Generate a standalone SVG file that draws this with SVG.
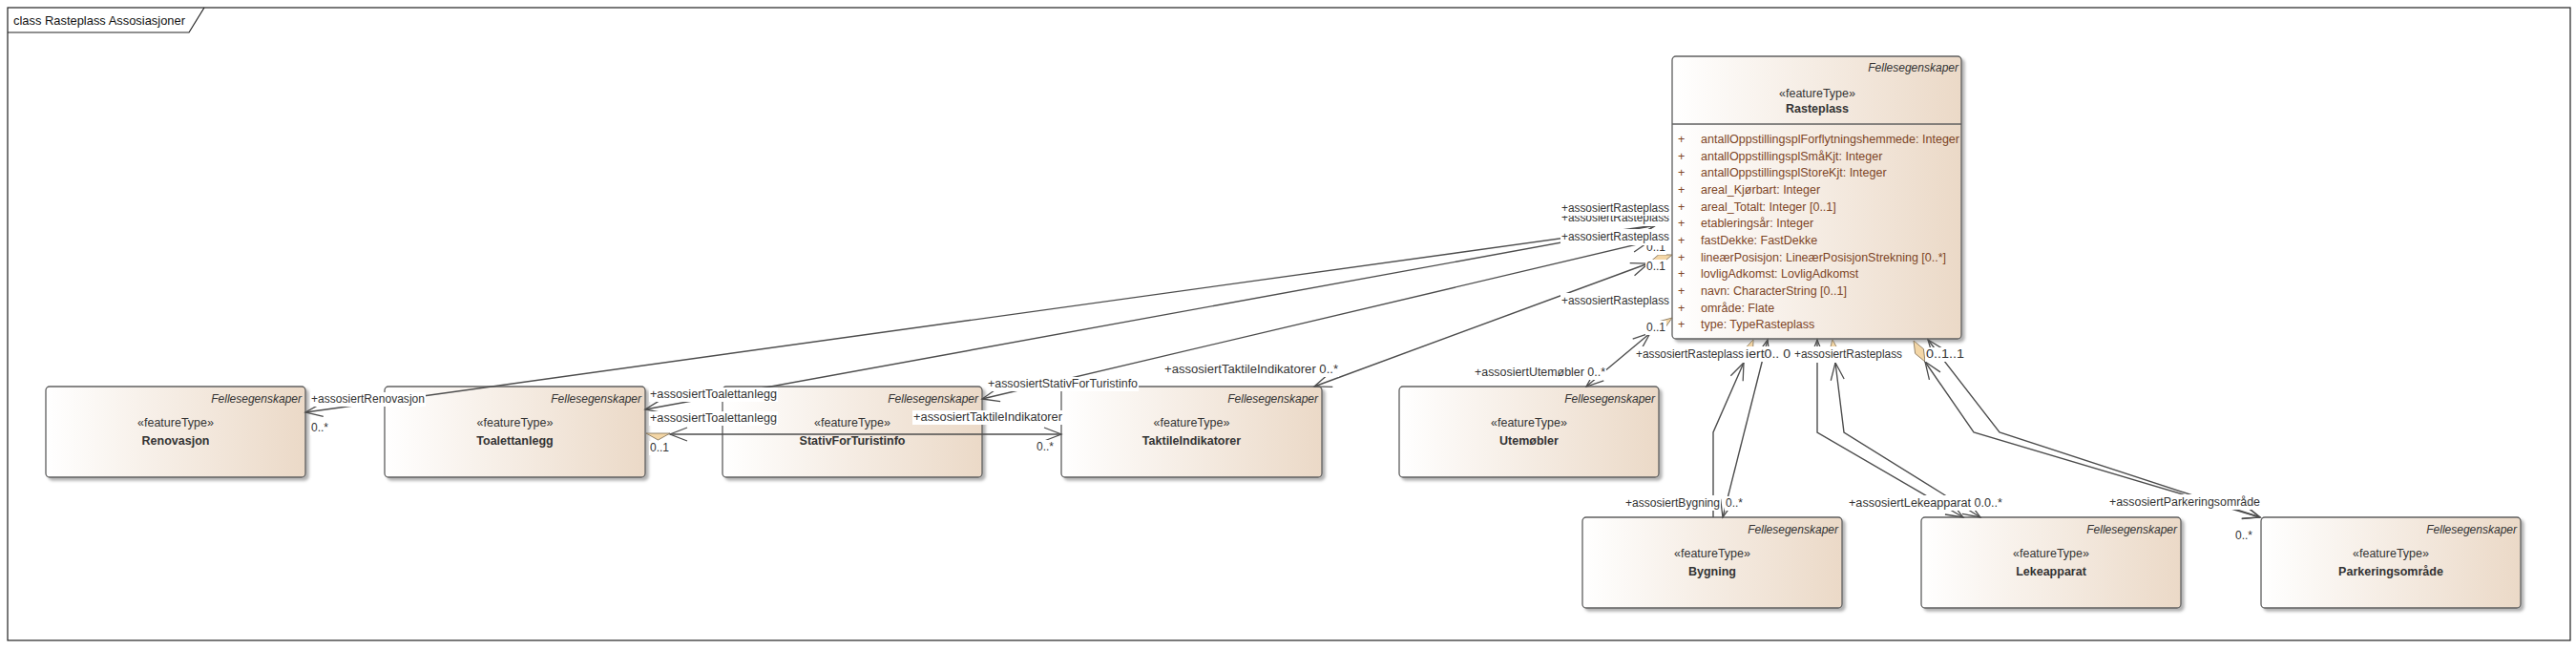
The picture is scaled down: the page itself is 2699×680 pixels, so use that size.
<svg xmlns="http://www.w3.org/2000/svg" width="2699" height="680" viewBox="0 0 2699 680">
<defs>
<style>
text{font-family:"Liberation Sans",Arial,sans-serif;fill:#333}
.box{fill:url(#g);stroke:#5f5f5f;stroke-width:1.3;filter:url(#sh)}
.pkg{font-size:12px;font-style:italic;text-anchor:end}
.st{font-size:12.5px;text-anchor:middle}
.nm{font-size:12.5px;font-weight:bold;text-anchor:middle}
.att{font-size:12.5px;fill:#7d4526}
.lbl{font-size:12px}
.bg{fill:#fff}
.c{fill:none;stroke:#4d4d4d;stroke-width:1.4}
.a{marker-start:url(#arr);marker-end:url(#arr)}
.as{marker-start:url(#arr)}
.ae{marker-end:url(#arr)}
.dm{fill:#f3d6a6;stroke:#7a6a50;stroke-width:0.8}
</style>
<linearGradient id="g" x1="0" y1="0" x2="1" y2="0">
<stop offset="0" stop-color="#ffffff"/>
<stop offset="1" stop-color="#ebd9c7"/>
</linearGradient>
<filter id="sh" x="-5%" y="-5%" width="115%" height="120%">
<feDropShadow dx="3" dy="3" stdDeviation="1.5" flood-color="#000" flood-opacity="0.3"/>
</filter>
<marker id="arr" viewBox="-20 -9 22 18" refX="0" refY="0" markerWidth="22" markerHeight="18" markerUnits="userSpaceOnUse" orient="auto-start-reverse">
<path d="M-18,-7 L0,0 L-18,7" fill="none" stroke="#4d4d4d" stroke-width="1.3"/>
</marker>
</defs>
<rect x="0" y="0" width="2699" height="680" fill="#fff"/>
<g id="frame">
<rect x="8" y="8" width="2685" height="663" fill="#fff" stroke="#222" stroke-width="1.2"/>
<path d="M8,34 L198,34 L214,8" fill="none" stroke="#222" stroke-width="1.2"/>
<text x="14" y="26" font-size="13.5" textLength="180" lengthAdjust="spacingAndGlyphs" style="fill:#111">class Rasteplass Assosiasjoner</text>
</g>

<g id="node-rasteplass">
<rect class="box" x="1752" y="59" width="303" height="296" rx="4"/>
<line x1="1752" y1="130" x2="2055" y2="130" stroke="#5f5f5f" stroke-width="1.3"/>
<text class="pkg" x="2052" y="75">Fellesegenskaper</text>
<text class="st" x="1904" y="102">«featureType»</text>
<text class="nm" x="1904" y="118">Rasteplass</text>
<g class="att">
<text class="att" x="1758" y="150">+</text><text class="att" x="1782" y="150" textLength="271" lengthAdjust="spacingAndGlyphs">antallOppstillingsplForflytningshemmede: Integer</text>
<text class="att" x="1758" y="167.6">+</text><text class="att" x="1782" y="167.6">antallOppstillingsplSmåKjt: Integer</text>
<text class="att" x="1758" y="185.3">+</text><text class="att" x="1782" y="185.3">antallOppstillingsplStoreKjt: Integer</text>
<text class="att" x="1758" y="203">+</text><text class="att" x="1782" y="203">areal_Kjørbart: Integer</text>
<text class="att" x="1758" y="220.6">+</text><text class="att" x="1782" y="220.6">areal_Totalt: Integer [0..1]</text>
<text class="att" x="1758" y="238.3">+</text><text class="att" x="1782" y="238.3">etableringsår: Integer</text>
<text class="att" x="1758" y="255.9">+</text><text class="att" x="1782" y="255.9">fastDekke: FastDekke</text>
<text class="att" x="1758" y="273.6">+</text><text class="att" x="1782" y="273.6">lineærPosisjon: LineærPosisjonStrekning [0..*]</text>
<text class="att" x="1758" y="291.2">+</text><text class="att" x="1782" y="291.2">lovligAdkomst: LovligAdkomst</text>
<text class="att" x="1758" y="308.9">+</text><text class="att" x="1782" y="308.9">navn: CharacterString [0..1]</text>
<text class="att" x="1758" y="326.5">+</text><text class="att" x="1782" y="326.5">område: Flate</text>
<text class="att" x="1758" y="344.2">+</text><text class="att" x="1782" y="344.2">type: TypeRasteplass</text>
</g>
</g>

<g id="node-renovasjon">
<rect class="box" x="48" y="405" width="272" height="95" rx="4"/>
<text class="pkg" x="316" y="422">Fellesegenskaper</text>
<text class="st" x="184" y="447">«featureType»</text>
<text class="nm" x="184" y="466">Renovasjon</text>
</g>
<g id="node-toalettanlegg">
<rect class="box" x="403" y="405" width="273" height="95" rx="4"/>
<text class="pkg" x="672" y="422">Fellesegenskaper</text>
<text class="st" x="539.5" y="447">«featureType»</text>
<text class="nm" x="539.5" y="466">Toalettanlegg</text>
</g>
<g id="node-stativ">
<rect class="box" x="757" y="405" width="272" height="95" rx="4"/>
<text class="pkg" x="1025" y="422">Fellesegenskaper</text>
<text class="st" x="893" y="447">«featureType»</text>
<text class="nm" x="893" y="466">StativForTuristinfo</text>
</g>
<g id="node-taktile">
<rect class="box" x="1112" y="405" width="273" height="95" rx="4"/>
<text class="pkg" x="1381" y="422">Fellesegenskaper</text>
<text class="st" x="1248.5" y="447">«featureType»</text>
<text class="nm" x="1248.5" y="466">TaktileIndikatorer</text>
</g>
<g id="node-utemobler">
<rect class="box" x="1466" y="405" width="272" height="95" rx="4"/>
<text class="pkg" x="1734" y="422">Fellesegenskaper</text>
<text class="st" x="1602" y="447">«featureType»</text>
<text class="nm" x="1602" y="466">Utemøbler</text>
</g>
<g id="node-bygning">
<rect class="box" x="1658" y="542" width="272" height="95" rx="4"/>
<text class="pkg" x="1926" y="559">Fellesegenskaper</text>
<text class="st" x="1794" y="584">«featureType»</text>
<text class="nm" x="1794" y="603">Bygning</text>
</g>
<g id="node-lekeapparat">
<rect class="box" x="2013" y="542" width="272" height="95" rx="4"/>
<text class="pkg" x="2281" y="559">Fellesegenskaper</text>
<text class="st" x="2149" y="584">«featureType»</text>
<text class="nm" x="2149" y="603">Lekeapparat</text>
</g>
<g id="node-parkeringsomrade">
<rect class="box" x="2369" y="542" width="272" height="95" rx="4"/>
<text class="pkg" x="2637" y="559">Fellesegenskaper</text>
<text class="st" x="2505" y="584">«featureType»</text>
<text class="nm" x="2505" y="603">Parkeringsområde</text>
</g>

<g id="connectors">
<path class="c a" d="M320,432 L1735,236"/>
<path class="c a" d="M676,429 L1735,236"/>
<path class="c a" d="M1029,418 L1728,253"/>
<path class="c a" d="M1377,405 L1727,276"/>
<polygon class="dm" points="1752,267 1741.2,276.2 1727,276 1737.8,266.8"/>
<path class="c a" d="M1662,405 L1729,349"/>
<polygon class="dm" points="1752,333 1743.4,345.1 1729,349 1737.6,336.9"/>
<polygon class="dm" points="677,454 702,454 689.5,461"/>
<path class="c a" d="M702,455 L1112,455"/>
<polygon class="dm" points="1837,356 1836.6,369.9 1827,380 1827.4,366.1"/>
<path class="c as" d="M1827,380 L1795,453 L1795,542"/>
<path class="c a" d="M1852,356 L1805,542"/>
<path class="c a" d="M1904,356 L1904,453 L2057,542"/>
<polygon class="dm" points="1920,356 1926.5,367.4 1923,380 1916.5,368.6"/>
<path class="c a" d="M1923,380 L1932,453 L2075,542"/>
<polygon class="dm" points="2005,357 2015.4,365.6 2017,379 2006.6,370.4"/>
<path class="c a" d="M2017,379 L2068,453 L2368,542"/>
<path class="c a" d="M2020,356 L2095,453 L2368,542"/>

<g id="labels">
<rect class="bg" x="325" y="411" width="121" height="15"/><text class="lbl" x="326" y="422" textLength="119" lengthAdjust="spacingAndGlyphs">+assosiertRenovasjon</text>
<rect class="bg" x="325" y="441" width="23" height="15"/><text class="lbl" x="326" y="452">0..*</text>
<rect class="bg" x="680" y="406" width="135" height="15"/><text class="lbl" x="681" y="417" textLength="133" lengthAdjust="spacingAndGlyphs">+assosiertToalettanlegg</text>
<rect class="bg" x="680" y="431" width="135" height="15"/><text class="lbl" x="681" y="442" textLength="133" lengthAdjust="spacingAndGlyphs">+assosiertToalettanlegg</text>
<rect class="bg" x="680" y="462" width="22" height="15"/><text class="lbl" x="681" y="473">0..1</text>
<rect class="bg" x="1034" y="395" width="159" height="15"/><text class="lbl" x="1035" y="406" textLength="157" lengthAdjust="spacingAndGlyphs">+assosiertStativForTuristinfo</text>
<rect class="bg" x="956" y="430" width="158" height="15"/><text class="lbl" x="957" y="441" textLength="156" lengthAdjust="spacingAndGlyphs">+assosiertTaktileIndikatorer</text>
<rect class="bg" x="1085" y="461" width="23" height="15"/><text class="lbl" x="1086" y="472">0..*</text>
<rect class="bg" x="1219" y="380" width="184" height="15"/><text class="lbl" x="1220" y="391" textLength="182" lengthAdjust="spacingAndGlyphs">+assosiertTaktileIndikatorer 0..*</text>
<rect class="bg" x="1544" y="383" width="139" height="15"/><text class="lbl" x="1545" y="394" textLength="137" lengthAdjust="spacingAndGlyphs">+assosiertUtemøbler 0..*</text>

<rect class="bg" x="1635" y="221" width="115" height="16"/><text class="lbl" x="1636" y="232" textLength="113" lengthAdjust="spacingAndGlyphs">+assosiertRasteplass</text>
<rect class="bg" x="1635" y="210" width="115" height="16"/><text class="lbl" x="1636" y="222" textLength="113" lengthAdjust="spacingAndGlyphs">+assosiertRasteplass</text>
<rect class="bg" x="1724" y="252" width="22" height="15"/><text class="lbl" x="1725" y="263">0..1</text>
<rect class="bg" x="1635" y="240" width="115" height="17"/><text class="lbl" x="1636" y="252" textLength="113" lengthAdjust="spacingAndGlyphs">+assosiertRasteplass</text>
<rect class="bg" x="1724" y="272" width="22" height="15"/><text class="lbl" x="1725" y="283">0..1</text>
<rect class="bg" x="1635" y="307" width="115" height="16"/><text class="lbl" x="1636" y="319" textLength="113" lengthAdjust="spacingAndGlyphs">+assosiertRasteplass</text>
<rect class="bg" x="1724" y="336" width="22" height="15"/><text class="lbl" x="1725" y="347">0..1</text>

<rect class="bg" x="1713" y="363" width="115" height="17"/><text class="lbl" x="1714" y="375" textLength="113" lengthAdjust="spacingAndGlyphs">+assosiertRasteplass</text>
<rect class="bg" x="1828" y="363" width="49" height="16"/><text class="lbl" x="1829" y="375" textLength="47" lengthAdjust="spacingAndGlyphs">iert0.. 0</text>
<rect class="bg" x="1879" y="363" width="115" height="17"/><text class="lbl" x="1880" y="375" textLength="113" lengthAdjust="spacingAndGlyphs">+assosiertRasteplass</text>
<rect class="bg" x="2017" y="364" width="42" height="15"/><text class="lbl" x="2018" y="375" textLength="40" lengthAdjust="spacingAndGlyphs">0..1..1</text>

<rect class="bg" x="1702" y="519" width="101" height="16"/><text class="lbl" x="1703" y="531" textLength="99" lengthAdjust="spacingAndGlyphs">+assosiertBygning</text>
<rect class="bg" x="1807" y="520" width="23" height="15"/><text class="lbl" x="1808" y="531">0..*</text>
<rect class="bg" x="1936" y="519" width="163" height="16"/><text class="lbl" x="1937" y="531" textLength="161" lengthAdjust="spacingAndGlyphs">+assosiertLekeapparat 0.0..*</text>
<rect class="bg" x="2209" y="518" width="160" height="16"/><text class="lbl" x="2210" y="530" textLength="158" lengthAdjust="spacingAndGlyphs">+assosiertParkeringsområde</text>
<rect class="bg" x="2341" y="554" width="23" height="15"/><text class="lbl" x="2342" y="565">0..*</text>
</g>
</g>
</svg>
